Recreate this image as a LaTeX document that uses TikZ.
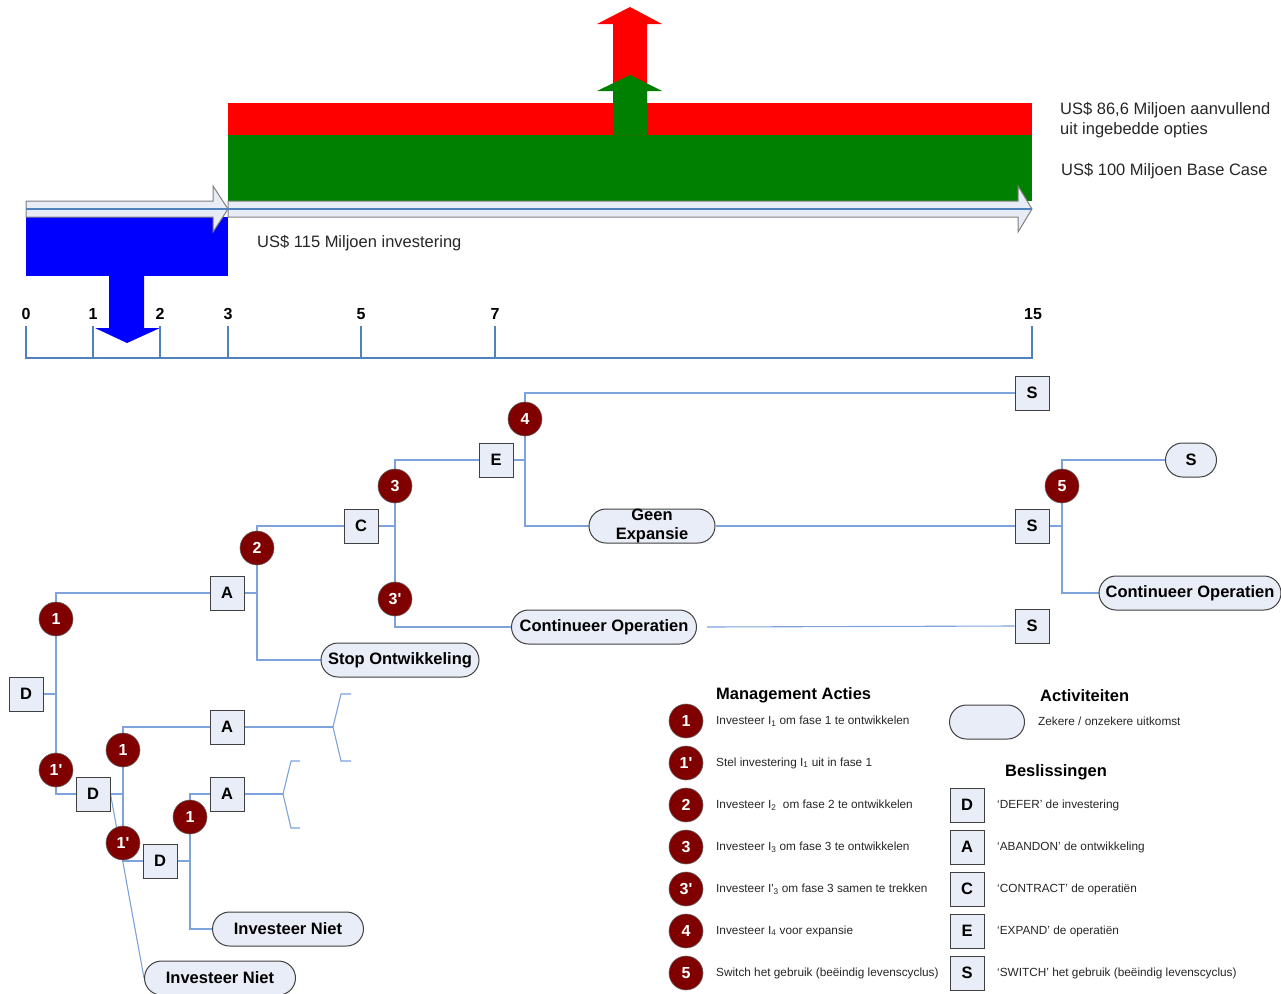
\documentclass[tikz,border=0pt]{standalone}
\usepackage{fontspec}
\setmainfont{Liberation Sans}
\usetikzlibrary{shapes.misc,backgrounds}
\definecolor{dred}{RGB}{128,0,0}
\definecolor{boxfill}{RGB}{233,237,247}
\definecolor{linkblue}{RGB}{126,162,220}
\definecolor{tlblue}{RGB}{79,129,189}
\definecolor{bargreen}{RGB}{0,128,0}
\definecolor{arrowfill}{RGB}{232,236,246}
\newcommand\pr{\textquotesingle}
\tikzset{
  circ/.style={circle,fill=dred,draw=black!60,line width=0.6pt,minimum size=34pt,inner sep=0pt,text=white,font=\bfseries\fontsize{16}{16}\selectfont},
  sq/.style={rectangle,fill=boxfill,draw=black!75,line width=1pt,minimum size=34pt,inner sep=0pt,font=\bfseries\fontsize{16.5}{16.5}\selectfont},
  pill/.style={rounded rectangle,fill=boxfill,draw=black!75,line width=1pt,minimum height=34pt,inner sep=0pt,font=\bfseries\fontsize{16.5}{19}\selectfont},
  conn/.style={draw=linkblue,line width=1.1pt},
  txt/.style={anchor=west,inner sep=0pt,font=\fontsize{16.5}{20}\selectfont,text=black!85},
  ltxt/.style={anchor=west,inner sep=0pt,font=\fontsize{11.8}{13}\selectfont,text=black!85},
  head/.style={inner sep=0pt,font=\bfseries\fontsize{16.5}{16.5}\selectfont},
  tl/.style={inner sep=0pt,font=\bfseries\fontsize{16}{16}\selectfont},
}
\begin{document}
\begin{tikzpicture}[x=1pt,y=-1pt]
\useasboundingbox (0,0) rectangle (1281,993);
% ---------- top value bars ----------
\fill[red] (228,103) rectangle (1032,135);
\fill[bargreen] (228,135) rectangle (1032,201);
\fill[red] (613,135) -- (613,24) -- (597,24) -- (630,7) -- (662,24) -- (647,24) -- (647,135) -- cycle;
\fill[bargreen] (613,135) -- (613,91) -- (597,91) -- (630,75) -- (662,91) -- (647,91) -- (647,135) -- cycle;
% blue investment
\fill[blue] (26,217) rectangle (228,276);
\fill[blue] (109,275) -- (109,328) -- (95,328) -- (127,343) -- (160,328) -- (144,328) -- (144,275) -- cycle;
% white arrows
\filldraw[fill=arrowfill,draw=black!50,line width=1pt] (26,201) -- (213,201) -- (213,186) -- (228,209) -- (213,232) -- (213,217) -- (26,217) -- cycle;
\filldraw[fill=arrowfill,draw=black!50,line width=1pt] (228,201) -- (1018,201) -- (1018,186) -- (1032,209) -- (1018,232) -- (1018,217) -- (228,217) -- cycle;
\draw[tlblue,line width=1.2pt] (26,209) -- (228,209) -- (1032,209);
\node[txt] (inv) at (257,243) {US\$ 115 Miljoen investering};
\node[txt,align=left] (opt) at (1060,120) {US\$ 86,6 Miljoen aanvullend\\uit ingebedde opties};
\node[txt] (base) at (1061,171) {US\$ 100 Miljoen Base Case};
% ---------- timeline ----------
\draw[tlblue,line width=2pt] (26,326) -- (26,358) -- (1032,358) -- (1032,326);
\foreach \x in {93,160,228,361,495} \draw[tlblue,line width=2pt] (\x,326) -- (\x,358);
\foreach \x/\l in {26/0,93/1,160/2,228/3,361/5,495/7,1033/15} \node[tl] (t\l) at (\x,314) {\l};
% ---------- tree nodes ----------
\node[sq] (D1) at (26,694) {D};
\node[circ] (c1) at (56,619) {1};
\node[circ] (c1p) at (56,770) {1\pr};
\node[sq] (A1) at (227,593) {A};
\node[circ] (c2) at (257,548) {2};
\node[pill,minimum width=158pt] (stop) at (400,660) {Stop Ontwikkeling};
\node[sq] (C) at (361,526) {C};
\node[circ] (c3) at (395,486) {3};
\node[circ] (c3p) at (395,599) {3\pr};
\node[sq] (E) at (496,460) {E};
\node[circ] (c4) at (525,419) {4};
\node[sq] (S1) at (1032,393) {S};
\node[pill,minimum width=126pt,align=center] (geen) at (652,526) {Geen\\Expansie};
\node[sq] (S2) at (1032,526) {S};
\node[pill,minimum width=185pt] (cont1) at (604,627) {Continueer Operatien};
\node[sq] (S3) at (1032,626) {S};
\node[circ] (c5) at (1062,486) {5};
\node[pill,minimum width=51pt] (Spill) at (1191,460) {S};
\node[pill,minimum width=182pt] (cont2) at (1190,593) {Continueer Operatien};
\node[sq] (D2) at (93,794) {D};
\node[circ] (c1b) at (123,750) {1};
\node[circ] (c1pb) at (123,843) {1\pr};
\node[sq] (A2) at (227,727) {A};
\node[sq] (D3) at (160,861) {D};
\node[circ] (c1c) at (190,817) {1};
\node[sq] (A3) at (227,794) {A};
\node[pill,minimum width=151pt] (niet1) at (288,929) {Investeer Niet};
\node[pill,minimum width=151pt] (niet2) at (220,978) {Investeer Niet};
\coordinate (b1) at (333,727);
\coordinate (b1a) at (341,694); \coordinate (b1b) at (351,694);
\coordinate (b1c) at (341,761); \coordinate (b1d) at (351,761);
\coordinate (b2) at (283,794);
\coordinate (b2a) at (291,761); \coordinate (b2b) at (300,761);
\coordinate (b2c) at (291,828); \coordinate (b2d) at (300,828);
\begin{scope}[on background layer]
\draw[conn] (D1.east) -- (D1.east -| c1);
\draw[conn] (c1.north) |- (A1.west);
\draw[conn] (c1.south) -- (c1p.north);
\draw[conn] (c1p.south) |- (D2.west);
\draw[conn] (A1.east) -- (A1.east -| c2);
\draw[conn] (c2.north) |- (C.west);
\draw[conn] (c2.south) |- (stop.west);
\draw[conn] (C.east) -- (C.east -| c3);
\draw[conn] (c3.north) |- (E.west);
\draw[conn] (c3.south) -- (c3p.north);
\draw[conn] (c3p.south) |- (cont1.west);
\draw[conn] (E.east) -- (E.east -| c4);
\draw[conn] (c4.north) |- (S1.west);
\draw[conn] (c4.south) |- (geen.west);
\draw[conn] (geen.east) -- (S2.west);
\draw[conn] ([xshift=10pt]cont1.east) -- (S3.west);
\draw[conn] (S2.east) -- (S2.east -| c5);
\draw[conn] (c5.north) |- (Spill.west);
\draw[conn] (c5.south) |- (cont2.west);
\draw[conn] (D2.east) -- (D2.east -| c1b);
\draw[conn] (c1b.north) |- (A2.west);
\draw[conn] (c1b.south) -- (c1pb.north);
\draw[conn] (c1pb.south) |- (D3.west);
\draw[conn] (D2.east) -- (niet2.west);
\draw[conn] (D3.east) -- (D3.east -| c1c);
\draw[conn] (c1c.north) |- (A3.west);
\draw[conn] (c1c.south) |- (niet1.west);
\draw[conn] (A2.east) -- (b1);
\draw[conn] (b1) -- (b1a) -- (b1b);
\draw[conn] (b1) -- (b1c) -- (b1d);
\draw[conn] (A3.east) -- (b2);
\draw[conn] (b2) -- (b2a) -- (b2b);
\draw[conn] (b2) -- (b2c) -- (b2d);
\end{scope}
% ---------- legend ----------
\node[head,anchor=west] (hMA) at (716,695) {Management Acties};
\node[head,anchor=west] (hAct) at (1040,696) {Activiteiten};
\node[head] (hBes) at (1056,772) {Beslissingen};
\foreach \n/\y/\l/\t in {
  l1/721/1/{Investeer I\textsubscript{1} om fase 1 te ontwikkelen},
  l1p/763/1\pr/{Stel investering I\textsubscript{1} uit in fase 1},
  l2/805/2/{Investeer I\textsubscript{2}\ \ om fase 2 te ontwikkelen},
  l3/847/3/{Investeer I\textsubscript{3} om fase 3 te ontwikkelen},
  l3p/889/3\pr/{Investeer I\pr\textsubscript{3} om fase 3 samen te trekken},
  l4/931/4/{Investeer I\textsubscript{4} voor expansie},
  l5/973/5/{Switch het gebruik (beëindig levenscyclus)}}{
  \node[circ] (\n) at (686,\y) {\l};
  \node[ltxt] (\n t) at (716,\y) {\t};
}
\node[pill,minimum width=75pt] (lpill) at (987,722) {};
\node[ltxt] (lpillt) at (1038,721) {Zekere / onzekere uitkomst};
\foreach \n/\y/\l/\t in {
  sD/805/D/{‘DEFER’ de investering},
  sA/847/A/{‘ABANDON’ de ontwikkeling},
  sC/889/C/{‘CONTRACT’ de operatiën},
  sE/931/E/{‘EXPAND’ de operatiën},
  sS/973/S/{‘SWITCH’ het gebruik (beëindig levenscyclus)}}{
  \node[sq] (\n) at (967,\y) {\l};
  \node[ltxt] (\n t) at (997,\y) {\t};
}
\end{tikzpicture}
\end{document}
